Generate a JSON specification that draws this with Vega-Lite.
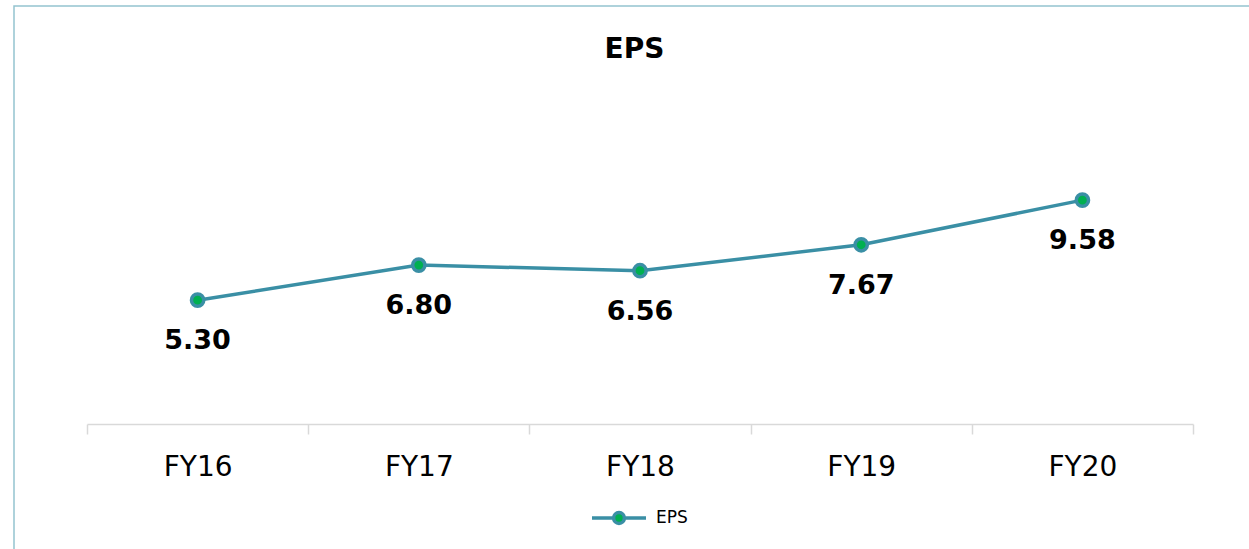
{
  "$schema": "https://vega.github.io/schema/vega-lite/v6.json",
  "width": 1241,
  "height": 549,
  "autosize": {"type": "none"},
  "padding": {"left": 14, "top": 6, "right": -6, "bottom": -6},
  "background": "white",
  "config": {"view": {"stroke": "#94c3cf", "strokeWidth": 1.5}, "font": "DejaVu Sans"},
  "title": {"text": "EPS", "fontSize": 28, "fontWeight": "bold", "color": "#000000", "anchor": "middle", "frame": "group", "baseline": "alphabetic", "offset": -80},
  "data": {"values": [
    {"year": "FY16", "eps": 5.30, "series": "EPS"},
    {"year": "FY17", "eps": 6.80, "series": "EPS"},
    {"year": "FY18", "eps": 6.56, "series": "EPS"},
    {"year": "FY19", "eps": 7.67, "series": "EPS"},
    {"year": "FY20", "eps": 9.58, "series": "EPS"}
  ]},
  "encoding": {
    "x": {
      "field": "year", "type": "nominal", "sort": null,
      "scale": {"type": "band", "range": [73, 1179], "paddingInner": 0, "paddingOuter": 0},
      "axis": {"orient": "bottom", "offset": -131, "title": null, "domainColor": "#d9d9d9", "domainWidth": 1.5, "tickColor": "#d9d9d9", "tickWidth": 1.5, "tickSize": 10, "tickBand": "extent", "labelFontSize": 28, "labelColor": "#000000", "labelPadding": 19, "labelBaseline": "top", "labelAngle": 0, "grid": false}
    },
    "y": {
      "field": "eps", "type": "quantitative",
      "scale": {"domain": [0, 12], "range": [418, 137.6], "nice": false, "zero": true},
      "axis": null
    }
  },
  "layer": [
    {
      "mark": {"type": "line", "strokeWidth": 3.5},
      "encoding": {
        "color": {
          "field": "series", "type": "nominal",
          "scale": {"range": ["#3a8fa5"]},
          "legend": {
            "orient": "none", "legendX": 576, "legendY": 483, "title": null, "padding": 0,
            "symbolType": "M-1,0L-0.2,0M0.2,0L1,0M0.2,0A0.2,0.2,0,1,1,-0.2,0A0.2,0.2,0,1,1,0.2,0Z",
            "symbolSize": 2916, "symbolStrokeWidth": 3.5,
            "labelFontSize": 17, "labelColor": "#000000", "labelOffset": 8,
            "encode": {"symbols": {"update": {"fill": {"value": "#00b050"}, "stroke": {"value": "#3a8fa5"}, "opacity": {"value": 1}}}}
          }
        }
      }
    },
    {
      "mark": {"type": "point", "filled": true, "fill": "#00b050", "stroke": "#3a8fa5", "strokeWidth": 3.5, "size": 150, "opacity": 1}
    },
    {
      "mark": {"type": "text", "dy": 41, "fontSize": 27, "fontWeight": "bold", "baseline": "middle", "color": "#000000"},
      "encoding": {"text": {"field": "eps", "type": "quantitative", "format": ".2f"}}
    }
  ]
}
